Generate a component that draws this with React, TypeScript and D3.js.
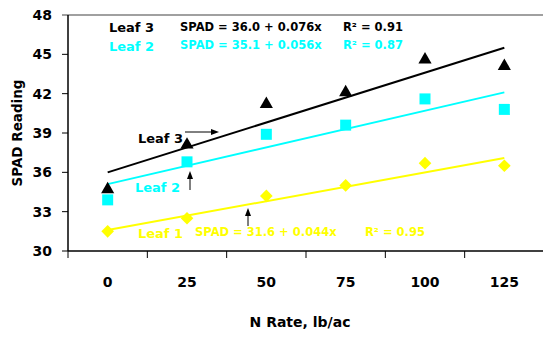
import React from 'react';
import * as d3 from 'd3';

// N rate categories (lb/ac)
const nRates = [0, 25, 50, 75, 100, 125];

// SPAD readings per leaf
const leaf3 = [34.7, 38.1, 41.2, 42.1, 44.6, 44.1];
const leaf2 = [33.9, 36.8, 38.9, 39.6, 41.6, 40.8];
const leaf1 = [31.5, 32.5, 34.2, 35.0, 36.7, 36.5];

// fitted lines: SPAD = a + b*x
const intercepts = [36.0, 35.1, 31.6];
const slopes = [0.076, 0.056, 0.044];

const yTicks = [30, 33, 36, 39, 42, 45, 48];

const W = 543;
const H = 339;
const left = 68;
const right = 544;
const top = 15;
const bottom = 251;

const FONT = '"DejaVu Sans", Verdana, sans-serif';
const CYAN = '#00ffff';
const YELLOW = '#ffff00';

const App = () => {
  const x = d3.scaleLinear().domain([-12.5, 137.5]).range([left, right]);
  const y = d3.scaleLinear().domain([30, 48]).range([bottom, top]);

  const bandEdges = d3.range(-12.5, 150, 25);

  const fit = (i: number) =>
    d3.line<number>()
      .x(d => x(d))
      .y(d => y(intercepts[i] + slopes[i] * d))([nRates[0], nRates[nRates.length - 1]]) || '';

  const tri = d3.symbol().type(d3.symbolTriangle).size(75)() || '';
  const sq = d3.symbol().type(d3.symbolSquare).size(121)() || '';
  const dia = d3.symbol().type(d3.symbolSquare).size(80)() || '';

  const arrowRight = (x1: number, x2: number, yy: number) => (
    <g>
      <line x1={x1} y1={yy} x2={x2 - 6} y2={yy} stroke="#000" strokeWidth={1} />
      <path d={`M${x2},${yy} L${x2 - 8},${yy - 3} L${x2 - 8},${yy + 3} Z`} fill="#000" />
    </g>
  );
  const arrowUp = (xx: number, y1: number, y2: number) => (
    <g>
      <line x1={xx} y1={y1} x2={xx} y2={y2 + 6} stroke="#000" strokeWidth={1} />
      <path d={`M${xx},${y2} L${xx - 3},${y2 + 8} L${xx + 3},${y2 + 8} Z`} fill="#000" />
    </g>
  );

  return (
    <svg width={W} height={H} style={{ position: 'absolute', left: 0, top: 0, background: '#fff' }}
      fontFamily={FONT} fontWeight="bold">
      {/* frame */}
      <line x1={62} x2={W} y1={top} y2={top} stroke="#808080" strokeWidth={1.5} />
      <line x1={left} x2={left} y1={top} y2={bottom} stroke="#000" strokeWidth={1.5} />
      <line x1={left} x2={W} y1={bottom} y2={bottom} stroke="#000" strokeWidth={1.5} />

      {/* y ticks */}
      {yTicks.map(t => (
        <g key={t}>
          {t !== 48 && <line x1={62} x2={left} y1={y(t)} y2={y(t)} stroke="#000" strokeWidth={1} />}
          <text x={52} y={y(t)} dy="0.36em" textAnchor="end" fontSize={14}>{t}</text>
        </g>
      ))}
      {/* x ticks */}
      {bandEdges.map(e => (
        <line key={e} x1={x(e)} x2={x(e)} y1={bottom} y2={bottom + 7} stroke="#000" strokeWidth={1} />
      ))}
      {nRates.map(r => (
        <text key={r} x={x(r)} y={287} textAnchor="middle" fontSize={14}>{r}</text>
      ))}

      <text transform={`translate(22,${(top + bottom) / 2}) rotate(-90)`} textAnchor="middle" fontSize={13.5}>SPAD Reading</text>
      <text x={300} y={327} textAnchor="middle" fontSize={14}>N Rate, lb/ac</text>

      {/* regression lines */}
      <path d={fit(0)} stroke="#000" strokeWidth={2} fill="none" />
      <path d={fit(1)} stroke={CYAN} strokeWidth={2} fill="none" />
      <path d={fit(2)} stroke={YELLOW} strokeWidth={2} fill="none" />

      {/* markers */}
      {nRates.map((r, i) => (
        <g key={r}>
          <path d={dia} transform={`translate(${x(r)},${y(leaf1[i])}) rotate(45)`} fill={YELLOW} />
          <path d={sq} transform={`translate(${x(r)},${y(leaf2[i])})`} fill={CYAN} />
          <path d={tri} transform={`translate(${x(r)},${y(leaf3[i])})`} fill="#000" />
        </g>
      ))}

      {/* legend block */}
      <text x={109} y={32} fontSize={13} fill="#000">Leaf 3</text>
      <text x={180} y={31} fontSize={11.5} fill="#000">SPAD = 36.0 + 0.076x</text>
      <text x={343} y={31} fontSize={11.5} fill="#000">R² = 0.91</text>
      <text x={109} y={51} fontSize={13} fill={CYAN}>Leaf 2</text>
      <text x={180} y={49} fontSize={11.5} fill={CYAN}>SPAD = 35.1 + 0.056x</text>
      <text x={343} y={49} fontSize={11.5} fill={CYAN}>R² = 0.87</text>

      {/* in-plot labels */}
      <text x={138} y={143} fontSize={13} fill="#000">Leaf 3</text>
      {arrowRight(185, 219, 132)}
      <text x={135} y={192} fontSize={13} fill={CYAN}>Leaf 2</text>
      {arrowUp(190, 190, 171)}
      <text x={138} y={238} fontSize={13} fill={YELLOW}>Leaf 1</text>
      {arrowUp(248, 226, 208)}
      <text x={195} y={236} fontSize={11.5} fill={YELLOW}>SPAD = 31.6 + 0.044x</text>
      <text x={365} y={236} fontSize={11.5} fill={YELLOW}>R² = 0.95</text>
    </svg>
  );
};

export default App;
